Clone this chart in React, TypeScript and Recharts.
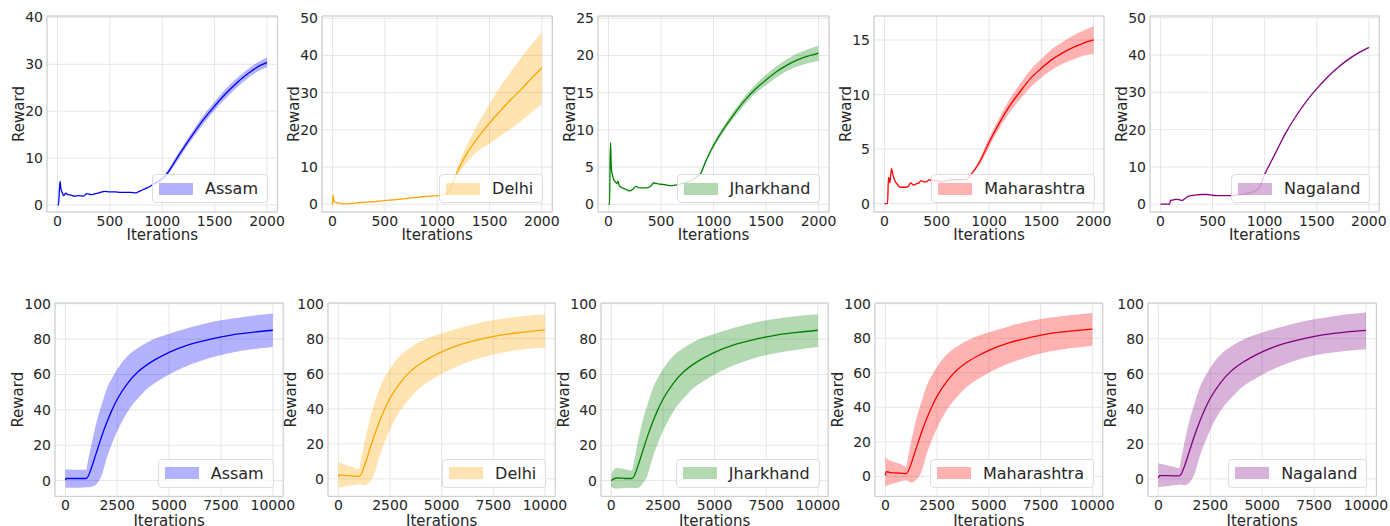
import { ComposedChart, Line, Area, XAxis, YAxis, CartesianGrid, ReferenceArea } from 'recharts';

// ---------- top row (0..2000 iterations) ----------
const assamTopIter = [0, 10, 18, 25, 32, 40, 50, 60, 80, 100, 130, 160, 200, 250, 280, 320, 360, 400, 450, 500, 550, 600, 650, 700, 750, 780, 820, 860, 900, 950, 1000, 1050, 1100, 1150, 1200, 1300, 1400, 1500, 1600, 1700, 1800, 1900, 2000];
const assamTopMean = [0, 0, 3.0, 5.0, 3.6, 2.9, 2.4, 2.0, 2.5, 2.2, 2.1, 1.9, 2.0, 1.9, 2.4, 2.2, 2.4, 2.6, 2.9, 2.8, 2.8, 2.7, 2.7, 2.7, 2.6, 2.9, 3.3, 3.7, 4.2, 4.9, 5.6, 6.8, 8.5, 10.3, 12.0, 15.3, 18.4, 21.1, 23.6, 25.8, 27.7, 29.3, 30.4];
const assamTopLow = [null, null, null, null, null, null, null, null, null, null, null, null, null, null, null, null, null, null, null, null, null, null, null, null, null, null, null, null, 4.1, 4.6, 5.2, 6.3, 7.9, 9.6, 11.3, 14.5, 17.5, 20.2, 22.6, 24.8, 26.7, 28.3, 29.35];
const assamTopHigh = [null, null, null, null, null, null, null, null, null, null, null, null, null, null, null, null, null, null, null, null, null, null, null, null, null, null, null, null, 4.3, 5.2, 6.0, 7.3, 9.1, 11.0, 12.7, 16.1, 19.3, 22.0, 24.6, 26.8, 28.7, 30.3, 31.45];

const delhiTopIter = [0, 5, 10, 20, 40, 60, 100, 150, 200, 250, 300, 350, 400, 450, 500, 550, 600, 650, 700, 750, 800, 850, 900, 950, 1000, 1050, 1100, 1150, 1200, 1300, 1400, 1500, 1600, 1700, 1800, 1900, 2000];
const delhiTopMean = [0, 2.5, 1.2, 0.7, 0.4, 0.3, 0.1, 0.1, 0.3, 0.4, 0.5, 0.6, 0.7, 0.8, 1.0, 1.1, 1.2, 1.4, 1.5, 1.7, 1.8, 2.0, 2.1, 2.2, 2.3, 2.5, 3.0, 5.8, 9.2, 14.3, 18.3, 21.8, 25.0, 28.0, 30.8, 33.8, 36.7];
const delhiTopLow = [null, null, null, null, null, null, null, null, null, null, null, null, null, null, null, null, null, null, null, null, null, null, null, null, null, null, 2.8, 5.3, 8.0, 11.8, 14.5, 16.3, 18.3, 20.2, 22.3, 24.6, 27.0];
const delhiTopHigh = [null, null, null, null, null, null, null, null, null, null, null, null, null, null, null, null, null, null, null, null, null, null, null, null, null, null, 3.2, 6.3, 10.4, 16.8, 22.1, 27.0, 31.5, 35.5, 39.3, 42.9, 46.2];

const jharTopIter = [0, 10, 15, 20, 25, 30, 40, 50, 65, 80, 90, 100, 120, 150, 180, 200, 230, 260, 300, 350, 400, 430, 450, 500, 550, 600, 650, 700, 750, 800, 850, 880, 920, 960, 1000, 1100, 1200, 1300, 1400, 1500, 1600, 1700, 1800, 1900, 2000];
const jharTopMean = [0, 0, 5.8, 8.3, 5.5, 4.5, 3.8, 3.3, 3.0, 2.8, 3.1, 2.6, 2.3, 2.1, 1.9, 1.8, 2.0, 2.4, 2.2, 2.2, 2.4, 2.9, 2.8, 2.7, 2.6, 2.5, 2.6, 2.8, 3.0, 3.3, 3.8, 4.2, 5.6, 6.8, 7.9, 10.2, 12.2, 14.0, 15.5, 16.7, 17.8, 18.7, 19.4, 19.9, 20.3];
const jharTopLow = [null, null, null, null, null, null, null, null, null, null, null, null, null, null, null, null, null, null, null, null, null, null, null, null, null, null, null, null, null, null, null, 4.1, 5.4, 6.55, 7.6, 9.8, 11.7, 13.45, 14.9, 16.0, 17.05, 17.9, 18.5, 18.95, 19.3];
const jharTopHigh = [null, null, null, null, null, null, null, null, null, null, null, null, null, null, null, null, null, null, null, null, null, null, null, null, null, null, null, null, null, null, null, 4.3, 5.8, 7.05, 8.2, 10.6, 12.7, 14.55, 16.1, 17.4, 18.55, 19.5, 20.3, 20.85, 21.3];

const mahaTopIter = [0, 30, 38, 45, 52, 60, 68, 75, 85, 100, 120, 150, 180, 200, 230, 250, 280, 300, 330, 350, 380, 400, 430, 450, 500, 550, 600, 650, 700, 750, 800, 830, 870, 920, 1000, 1100, 1200, 1300, 1400, 1500, 1600, 1700, 1800, 1900, 2000];
const mahaTopMean = [0, 0, 2.4, 2.3, 1.9, 2.6, 3.2, 2.9, 2.5, 2.1, 1.8, 1.5, 1.5, 1.5, 1.6, 1.9, 1.7, 1.8, 1.9, 2.1, 2.0, 2.0, 2.2, 2.1, 2.1, 2.0, 2.1, 2.2, 2.2, 2.2, 2.3, 2.7, 3.2, 4.0, 5.6, 7.4, 9.0, 10.3, 11.5, 12.4, 13.2, 13.8, 14.3, 14.7, 15.0];
const mahaTopLow = [null, null, null, null, null, null, null, null, null, null, null, null, null, null, null, null, null, null, null, null, null, null, null, null, null, null, null, null, null, null, null, 2.65, 3.05, 3.7, 5.2, 6.9, 8.4, 9.6, 10.7, 11.55, 12.25, 12.8, 13.2, 13.55, 13.75];
const mahaTopHigh = [null, null, null, null, null, null, null, null, null, null, null, null, null, null, null, null, null, null, null, null, null, null, null, null, null, null, null, null, null, null, null, 2.75, 3.35, 4.3, 6.0, 7.9, 9.6, 11.0, 12.3, 13.25, 14.15, 14.8, 15.4, 15.85, 16.25];

const nagaTopIter = [0, 90, 95, 120, 150, 180, 210, 230, 250, 280, 300, 350, 400, 450, 500, 550, 600, 650, 700, 750, 800, 850, 900, 950, 1000, 1050, 1100, 1200, 1300, 1400, 1500, 1600, 1700, 1800, 1900, 2000];
const nagaTopMean = [0, 0, 1.0, 1.1, 1.3, 1.2, 1.0, 1.4, 1.8, 2.2, 2.3, 2.5, 2.6, 2.6, 2.4, 2.3, 2.3, 2.3, 2.3, 2.5, 2.7, 3.0, 3.4, 4.5, 8.0, 10.8, 13.5, 19.0, 23.6, 27.6, 31.0, 34.0, 36.6, 38.8, 40.6, 42.1];

// ---------- bottom row (0..10000 iterations) ----------
const bottomIter = [0, 50, 250, 500, 750, 1000, 1100, 1250, 1500, 1750, 2000, 2250, 2500, 3000, 3500, 4000, 4500, 5000, 6000, 7000, 8000, 9000, 10000];

const assamBotMean = [0.3, 1.2, 1.2, 1.2, 1.2, 1.2, 2.5, 7, 16, 25, 33, 40, 46, 55, 61.5, 66, 69.5, 72.5, 77, 80, 82.3, 83.8, 85];
const assamBotLow = [-4, -4, -4, -4, -4, -3.8, -3.8, -3.5, -2, 3, 13, 21, 28, 39, 46.5, 52.5, 56.5, 60, 65.5, 69.5, 72.3, 74.2, 75.5];
const assamBotHigh = [6.2, 6.5, 6.3, 6.2, 6.2, 6.2, 12, 20, 33, 43, 52, 58, 63, 70.5, 75, 78.5, 81, 83, 86.5, 89.5, 91.5, 93.2, 94.5];

const delhiBotMean = [1.0, 2.3, 2.0, 1.8, 1.6, 1.4, 2.5, 7, 16, 25, 33, 40, 46, 55, 61.5, 66, 69.5, 72.5, 77, 80, 82.3, 83.8, 85];
const delhiBotLow = [-5, -5, -4.5, -4, -3.5, -3, -3.2, -3.5, -2, 3, 13, 21, 28, 39, 46.5, 52.5, 56.5, 60, 65.5, 69.5, 72.2, 74, 75];
const delhiBotHigh = [10, 9.5, 8.5, 7.5, 6.5, 5.5, 11, 20, 33, 43, 52, 58, 63, 70.5, 75, 78.5, 81, 83, 86.5, 89.5, 91.5, 93, 94];

const jharBotMean = [0, 0.5, 1.5, 1.4, 1.2, 1.2, 2.5, 7, 16, 25, 33, 40, 46, 55, 61.5, 66, 69.5, 72.5, 77, 80, 82.3, 83.8, 85];
const jharBotLow = [-3, -4, -4.5, -4.3, -4.2, -4.0, -4.2, -4.2, -2, 3, 13, 21, 28, 39, 46.5, 52.5, 56.5, 60, 65.5, 69.5, 72.2, 74, 75.5];
const jharBotHigh = [3.5, 5, 7.2, 6.8, 6.2, 5.8, 11, 20, 33, 43, 52, 58, 63, 70.5, 75, 78.5, 81, 83, 86.5, 89.5, 91.5, 93, 94];

const mahaBotMean = [0.5, 2.7, 2.2, 2.0, 1.8, 1.6, 2.8, 7.5, 16.5, 25.5, 33.5, 40.5, 46.5, 55.5, 62, 66.5, 70, 73, 77.5, 80.5, 82.8, 84.2, 85.3];
const mahaBotLow = [-5.8, -5.5, -4.5, -3.8, -3, -2.3, -2.8, -3.5, -2, 3, 13, 21, 28, 39, 46.5, 52.5, 56.5, 60, 65.5, 69.5, 72.5, 74.3, 75.7];
const mahaBotHigh = [11.2, 10.5, 9, 8, 7, 5.6, 11.5, 20.5, 33.5, 43.5, 52.5, 58.5, 63.5, 71, 75.5, 79, 81.5, 83.5, 87, 90, 92, 93.5, 94.6];

const nagaBotMean = [0.5, 1.8, 1.8, 1.8, 1.7, 1.7, 2.7, 7, 16, 25, 33, 40, 46, 55, 61.5, 66, 69.5, 72.5, 77, 80, 82.3, 83.8, 84.8];
const nagaBotLow = [-4.8, -4.6, -4.3, -4, -3.7, -3.4, -3.4, -3.6, -2, 3, 13, 21, 28, 39, 46, 52, 56, 59.5, 65, 69, 71.5, 73, 74];
const nagaBotHigh = [9, 8.8, 8.2, 7.5, 6.8, 6.1, 11.5, 20.5, 33.5, 43.5, 52.5, 58.5, 63.5, 71, 75.5, 79, 81.5, 83.5, 87, 90, 92, 93.8, 95];

const topXTicks = [0, 500, 1000, 1500, 2000];
const bottomXTicks = [0, 2500, 5000, 7500, 10000];
const bottomYTicks = [0, 20, 40, 60, 80, 100];

const FONT = '"DejaVu Sans", sans-serif';
const TEXT = '#262626';

function rows(iter: number[], mean: number[], low?: (number | null)[], high?: (number | null)[]) {
  return iter.map((it, i) => ({
    it,
    mean: mean[i],
    band: low && low[i] != null && high ? [low[i], high[i]] : null,
  }));
}

function Panel(p: any) {
  const { data, name, color, x, y, w, h, xDomain, yDomain, xTicks, yTicks, yw, labelOff } = p;
  const mt = 8, mr = 24, xh = 40;
  return (
    <>
      <div style={{ position: 'absolute', left: x - yw, top: y - mt }}>
        <ComposedChart width={yw + w + mr} height={mt + h + xh} data={data}
          margin={{ top: mt, right: mr, left: 0, bottom: 0 }}>
          <CartesianGrid stroke="#e6e6e6" strokeWidth={1} />
          <XAxis dataKey="it" type="number" domain={xDomain} ticks={xTicks} interval={0}
            allowDataOverflow axisLine={false} tickLine={false} tickSize={0} tickMargin={4} height={xh}
            tick={{ fontSize: 14, fill: TEXT, fontFamily: FONT }}
            label={{ value: 'Iterations', position: 'insideBottom', offset: labelOff, fontSize: 15, fill: TEXT, fontFamily: FONT }} />
          <YAxis type="number" domain={yDomain} ticks={yTicks} interval={0} allowDataOverflow
            axisLine={false} tickLine={false} tickSize={0} tickMargin={4} width={yw}
            tick={{ fontSize: 14, fill: TEXT, fontFamily: FONT }}
            label={{ value: 'Reward', angle: -90, position: 'center', fontSize: 15, fill: TEXT, fontFamily: FONT }} />
          <Area dataKey="band" type="monotone" stroke="none" fill={color} fillOpacity={0.3}
            isAnimationActive={false} connectNulls={false} />
          <Line dataKey="mean" type="monotone" stroke={color} strokeWidth={1.3} dot={false}
            isAnimationActive={false} />
          <ReferenceArea x1={xDomain[0]} x2={xDomain[1]} y1={yDomain[0]} y2={yDomain[1]}
            fill="none" stroke="#cccccc" strokeWidth={1} ifOverflow="visible" />
        </ComposedChart>
      </div>
      <div style={{
        position: 'absolute', right: 1390 - (x + w - 9), top: y + h - 9 - 29, height: 27,
        display: 'flex', alignItems: 'center', padding: '0 9px 0 6px',
        background: 'rgba(255,255,255,0.8)', border: '1px solid #dddddd', borderRadius: 4,
        fontFamily: FONT, fontSize: 16, color: TEXT, whiteSpace: 'nowrap',
      }}>
        <span style={{ display: 'inline-block', width: 34, height: 12, background: color, opacity: 0.3, marginRight: 12 }} />
        {name}
      </div>
    </>
  );
}

const TOP_Y = 16, TOP_H = 196, BOT_Y = 303.3, BOT_H = 193.4;

export default function App() {
  const top = [
    { name: 'Assam', color: '#0000ff', data: rows(assamTopIter, assamTopMean, assamTopLow, assamTopHigh), x: 46.5, w: 230.5, yDomain: [-1.5, 40.3], yTicks: [0, 10, 20, 30, 40] },
    { name: 'Delhi', color: '#ffa500', data: rows(delhiTopIter, delhiTopMean, delhiTopLow, delhiTopHigh), x: 322, w: 230.3, yDomain: [-2.1, 50.6], yTicks: [0, 10, 20, 30, 40, 50] },
    { name: 'Jharkhand', color: '#008000', data: rows(jharTopIter, jharTopMean, jharTopLow, jharTopHigh), x: 598.3, w: 231, yDomain: [-1.03, 25.3], yTicks: [0, 5, 10, 15, 20, 25] },
    { name: 'Maharashtra', color: '#ff0000', data: rows(mahaTopIter, mahaTopMean, mahaTopLow, mahaTopHigh), x: 874.3, w: 230, yDomain: [-0.77, 17.2], yTicks: [0, 5, 10, 15] },
    { name: 'Nagaland', color: '#800080', data: rows(nagaTopIter, nagaTopMean), x: 1150, w: 229.3, yDomain: [-2.1, 50.5], yTicks: [0, 10, 20, 30, 40, 50] },
  ];
  const bottom = [
    { name: 'Assam', color: '#0000ff', data: rows(bottomIter, assamBotMean, assamBotLow, assamBotHigh), x: 54.5, w: 228.2, yDomain: [-8.9, 100.4] },
    { name: 'Delhi', color: '#ffa500', data: rows(bottomIter, delhiBotMean, delhiBotLow, delhiBotHigh), x: 328, w: 227.3, yDomain: [-10, 100.4] },
    { name: 'Jharkhand', color: '#008000', data: rows(bottomIter, jharBotMean, jharBotLow, jharBotHigh), x: 601.4, w: 227.2, yDomain: [-8.9, 100.4] },
    { name: 'Maharashtra', color: '#ff0000', data: rows(bottomIter, mahaBotMean, mahaBotLow, mahaBotHigh), x: 875.3, w: 227.7, yDomain: [-11.6, 100.4] },
    { name: 'Nagaland', color: '#800080', data: rows(bottomIter, nagaBotMean, nagaBotLow, nagaBotHigh), x: 1148, w: 228.4, yDomain: [-10, 100.4] },
  ];
  return (
    <div style={{ position: 'absolute', left: 0, top: 0, width: 1390, height: 526, overflow: 'hidden', background: '#fff', fontFamily: FONT }}>
      {top.map(p => (
        <Panel key={'t' + p.name} {...p} y={TOP_Y} h={TOP_H} xDomain={[-100, 2100]} xTicks={topXTicks} yw={56} labelOff={12} />
      ))}
      {bottom.map(p => (
        <Panel key={'b' + p.name} {...p} y={BOT_Y} h={BOT_H} xDomain={[-500, 10500]} xTicks={bottomXTicks} yTicks={bottomYTicks} yw={74} labelOff={10} />
      ))}
    </div>
  );
}
